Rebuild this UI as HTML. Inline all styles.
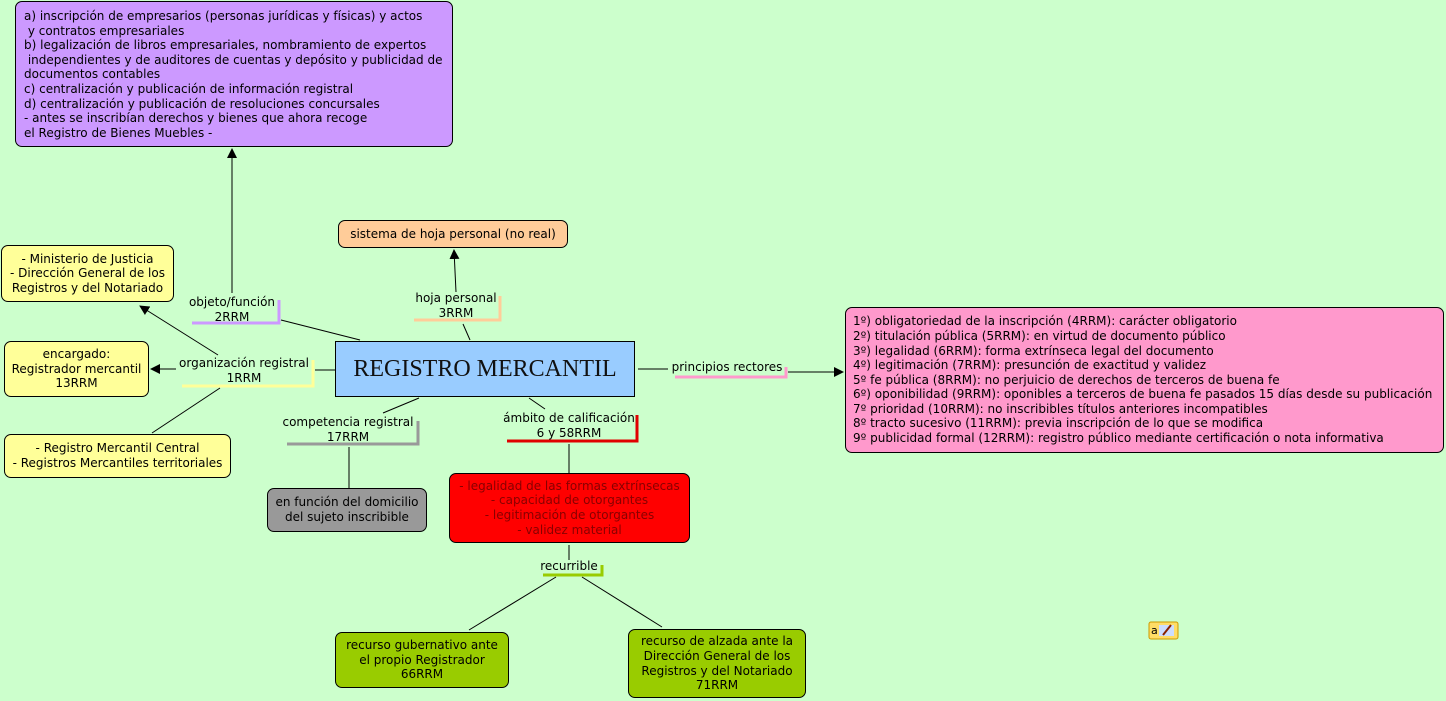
<!DOCTYPE html>
<html><head><meta charset="utf-8"><style>
body{margin:0;width:1446px;height:701px;background:#ccffcc;position:relative;overflow:hidden;font-family:Verdana,"DejaVu Sans",sans-serif;font-size:12px;color:#000}
.b{position:absolute;box-sizing:border-box;border:1px solid #000;border-radius:7px;display:flex;align-items:center;justify-content:center;text-align:center;line-height:14.6px;white-space:nowrap}
.l{position:absolute;text-align:center;line-height:14.6px;white-space:nowrap;transform:translateX(-50%)}
svg{position:absolute;left:0;top:0}
</style></head><body>
<svg width="1446" height="701">
<defs><marker id="a" markerWidth="10" markerHeight="10" refX="9" refY="5" orient="auto" markerUnits="userSpaceOnUse"><path d="M0,0 L10,5 L0,10z" fill="#000"/></marker></defs>
<g stroke="#000" stroke-width="1" fill="none">
<line x1="232" y1="293" x2="232" y2="149" marker-end="url(#a)"/>
<line x1="281" y1="320" x2="360" y2="340"/>
<line x1="470" y1="340" x2="463" y2="324"/>
<line x1="456" y1="292" x2="454" y2="250" marker-end="url(#a)"/>
<line x1="218" y1="355" x2="140" y2="306" marker-end="url(#a)"/>
<line x1="176" y1="369" x2="151" y2="369" marker-end="url(#a)"/>
<line x1="315" y1="370" x2="335" y2="370"/>
<line x1="220" y1="388" x2="152" y2="433"/>
<line x1="419" y1="398" x2="383" y2="413"/>
<line x1="349" y1="447" x2="349" y2="488"/>
<line x1="529" y1="398" x2="545" y2="409"/>
<line x1="569" y1="444" x2="569" y2="473"/>
<line x1="569" y1="545" x2="569" y2="560"/>
<line x1="556" y1="577" x2="469" y2="630"/>
<line x1="582" y1="577" x2="662" y2="627"/>
<line x1="638" y1="369" x2="668" y2="369"/>
<line x1="788" y1="372" x2="843" y2="372" marker-end="url(#a)"/>
</g>
<g fill="none" stroke-width="3">
<polyline points="192,323 279,323 279,300" stroke="#cc99ff"/>
<polyline points="414,320 500,320 500,296" stroke="#ffcc99"/>
<polyline points="182,386 313,386 313,360" stroke="#ffff99"/>
<polyline points="287,444 418,444 418,421" stroke="#999999"/>
<polyline points="507,441 637,441 637,415" stroke="#e00000"/>
<polyline points="675,377 786,377 786,367" stroke="#ff99cc"/>
<polyline points="543,575 602,575 602,565" stroke="#99cc00"/>
</g>
<g transform="translate(1149,622)">
<rect x="0" y="0" width="29" height="17" rx="2" fill="#ffdd66" stroke="#cc9900"/>
<text x="2" y="12" font-size="11" font-family="DejaVu Sans">a</text>
<rect x="10" y="3" width="15" height="11" fill="#ccddff"/>
<line x1="14" y1="13" x2="22" y2="3" stroke="#882200" stroke-width="2"/>
</g>
</svg>
<div class="b" style="left:15px;top:1px;width:438px;height:146px;background:#cc99ff;justify-content:flex-start;align-items:flex-start;text-align:left;padding:7px 0 0 8px;white-space:pre">a) inscripción de empresarios (personas jurídicas y físicas) y actos
 y contratos empresariales
b) legalización de libros empresariales, nombramiento de expertos
 independientes y de auditores de cuentas y depósito y publicidad de
documentos contables
c) centralización y publicación de información registral
d) centralización y publicación de resoluciones concursales
- antes se inscribían derechos y bienes que ahora recoge
el Registro de Bienes Muebles -</div>
<div class="b" style="left:338px;top:220px;width:230px;height:28px;background:#ffcc99">sistema de hoja personal (no real)</div>
<div class="b" style="left:1px;top:245px;width:173px;height:57px;background:#ffff99">- Ministerio de Justicia<br>- Dirección General de los<br>Registros y del Notariado</div>
<div class="b" style="left:4px;top:341px;width:145px;height:56px;background:#ffff99">encargado:<br>Registrador mercantil<br>13RRM</div>
<div class="b" style="left:4px;top:434px;width:227px;height:44px;background:#ffff99">- Registro Mercantil Central<br>- Registros Mercantiles territoriales</div>
<div class="b" style="left:335px;top:341px;width:300px;height:56px;background:#99ccff;border-radius:0;font-family:'Liberation Serif',serif;font-size:24px;color:#111">REGISTRO MERCANTIL</div>
<div class="b" style="left:267px;top:488px;width:160px;height:44px;background:#999999">en función del domicilio<br>del sujeto inscribible</div>
<div class="b" style="left:449px;top:473px;width:241px;height:70px;background:#ff0000;color:#880000">- legalidad de las formas extrínsecas<br>- capacidad de otorgantes<br>- legitimación de otorgantes<br>- validez material</div>
<div class="b" style="left:335px;top:632px;width:174px;height:56px;background:#99cc00">recurso gubernativo ante<br>el propio Registrador<br>66RRM</div>
<div class="b" style="left:628px;top:629px;width:178px;height:69px;background:#99cc00">recurso de alzada ante la<br>Dirección General de los<br>Registros y del Notariado<br>71RRM</div>
<div class="b" style="left:845px;top:307px;width:599px;height:146px;background:#ff99cc;justify-content:flex-start;text-align:left;padding-left:7px">1º) obligatoriedad de la inscripción (4RRM): carácter obligatorio<br>2º) titulación pública (5RRM): en virtud de documento público<br>3º) legalidad (6RRM): forma extrínseca legal del documento<br>4º) legitimación (7RRM): presunción de exactitud y validez<br>5º fe pública (8RRM): no perjuicio de derechos de terceros de buena fe<br>6º) oponibilidad (9RRM): oponibles a terceros de buena fe pasados 15 días desde su publicación<br>7º prioridad (10RRM): no inscribibles títulos anteriores incompatibles<br>8º tracto sucesivo (11RRM): previa inscripción de lo que se modifica<br>9º publicidad formal (12RRM): registro público mediante certificación o nota informativa</div>
<div class="l" style="left:232px;top:295px">objeto/función<br>2RRM</div>
<div class="l" style="left:456px;top:291px">hoja personal<br>3RRM</div>
<div class="l" style="left:244px;top:356px">organización registral<br>1RRM</div>
<div class="l" style="left:348px;top:415px">competencia registral<br>17RRM</div>
<div class="l" style="left:569px;top:411px">ámbito de calificación<br>6 y 58RRM</div>
<div class="l" style="left:727px;top:360px">principios rectores</div>
<div class="l" style="left:569px;top:559px">recurrible</div>
</body></html>
